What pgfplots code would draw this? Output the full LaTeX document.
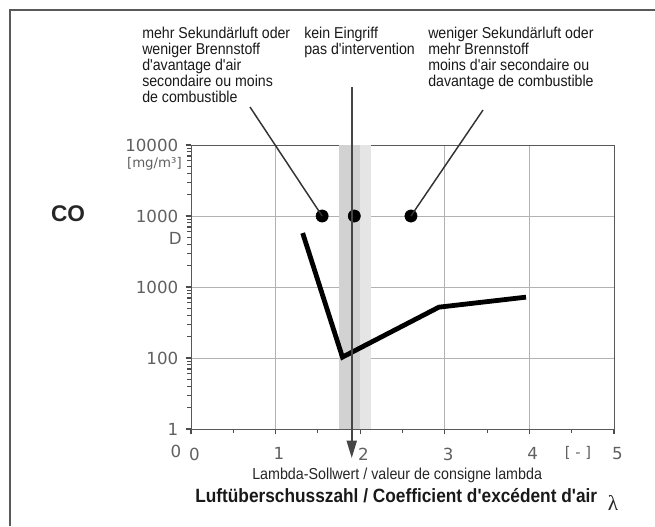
\documentclass[border=0pt]{standalone}
\usepackage{fontspec}
\setmainfont{Liberation Sans}
\newfontfamily\cn{Liberation Sans}[FakeStretch=0.9]
\newfontfamily\tickf{DejaVu Sans}
\newfontfamily\serif{Liberation Serif}
\usepackage{pgfplots}
\pgfplotsset{compat=1.18}
\usetikzlibrary{arrows.meta}
\begin{document}
\begin{tikzpicture}
\begin{scope}[x=0.75pt,y=-0.75pt]
\path[use as bounding box] (0,0) rectangle (655,526);
\draw[gray!70!black, line width=1.4pt] (10,526) -- (10,10) -- (655,10);
\end{scope}
\begin{axis}[
  at={(143.25pt,-321.75pt)}, anchor=south west,
  scale only axis, width=317.25pt, height=213pt,
  xmin=0, xmax=5, ymode=log, ymin=1, ymax=10000,
  xtick={0,1,2,3,4,5},
  minor xtick={0.5,1.5,2.5,3.5,4.5},
  ytick={1,10,100,1000,10000},
  yticklabels={1,100,1000,1000,10000},
  minor ytick={2,3,4,5,6,7,8,9,20,30,40,50,60,70,80,90,200,300,400,500,600,700,800,900,2000,3000,4000,5000,6000,7000,8000,9000},
  xtick pos=bottom, ytick pos=left,
  grid=major,
  major grid style={gray!60, line width=0.6pt},
  axis line style={gray!70!black, line width=0.7pt},
  tick style={gray!60!black, line width=0.8pt},
  tick align=outside,
  major tick length=4pt, minor tick length=3pt,
  /pgf/number format/assume math mode=true,
  tick label style={font=\tickf\fontsize{12.5}{13}\selectfont, text=gray!75!black},
  xticklabel style={yshift=-6.5pt, xshift=2.5pt},
  yticklabel style={xshift=-2pt},
]
% set-point band
\addplot[fill=gray!35, draw=none] coordinates {(1.75,1) (2.0,1) (2.0,10000) (1.75,10000)} -- cycle;
\addplot[fill=gray!20, draw=none] coordinates {(2.0,1) (2.13,1) (2.13,10000) (2.0,10000)} -- cycle;
% CO curve
\addplot[black, line width=3.6pt, line join=miter] coordinates {(1.32,575) (1.79,10.3) (2.93,52) (3.96,72)};
% state dots
\addplot[only marks, mark=*, mark size=4.6pt, black] coordinates {(1.55,1000) (1.93,1000) (2.6,1000)};
\coordinate (d1) at (axis cs:1.55,1000);
\coordinate (d3) at (axis cs:2.6,1000);
\coordinate (vl) at (axis cs:1.9,1);
\end{axis}
\begin{scope}[x=0.75pt,y=-0.75pt]
% leader lines
\draw[black!80, line width=1.1pt] (250,107) -- (d1);
\draw[black!80, line width=1.1pt] (483,110) -- (d3);
\draw[gray!55!black, line width=1.4pt, -{Triangle[length=13pt,width=7.5pt]}] (vl |- 0,87) -- (vl |- 0,458);
% upper texts
\begin{scope}[every node/.style={inner sep=0pt, anchor=base west, font=\cn\fontsize{11.8}{12}\selectfont, text=black!90}]
\node at (142,38) {mehr Sekundärluft oder};
\node at (142,54) {weniger Brennstoff};
\node at (142,70) {d'avantage d'air};
\node at (142,86) {secondaire ou moins};
\node at (142,102) {de combustible};
\node at (304,38) {kein Eingriff};
\node at (304,54) {pas d'intervention};
\node at (428,38) {weniger Sekundärluft oder};
\node at (428,54) {mehr Brennstoff};
\node at (428,70) {moins d'air secondaire ou};
\node at (428,86) {davantage de combustible};
\end{scope}
% axis texts
\node[font=\fontsize{17}{18}\selectfont\bfseries, text=black!85, inner sep=0pt] at (68,214) {CO};
\node[font=\tickf\fontsize{10}{11}\selectfont, text=gray!75!black, anchor=east, inner sep=0pt] at (182,164) {[mg/m³]};
\node[font=\tickf\fontsize{12.5}{13}\selectfont, text=gray!75!black, anchor=east, inner sep=0pt] at (182,238) {D};
\node[font=\tickf\fontsize{12.5}{13}\selectfont, text=gray!75!black, inner sep=0pt] at (176,451) {0};
\node[font=\tickf\fontsize{11}{12}\selectfont, text=gray!75!black, inner sep=0pt] at (578,453) {[ - ]};
\node[font=\cn\fontsize{11.9}{13}\selectfont, text=black!85, anchor=base west, inner sep=0pt] at (252,479) {Lambda-Sollwert / valeur de consigne lambda};
\node[font=\cn\fontsize{14.4}{16}\selectfont\bfseries, text=black!90, anchor=base west, inner sep=0pt] at (195,502) {Luftüberschusszahl / Coefficient d'excédent d'air};
\node[font=\serif\fontsize{16}{18}\selectfont, text=black!85, inner sep=0pt] at (613,503) {λ};
\end{scope}
\end{tikzpicture}
\end{document}
